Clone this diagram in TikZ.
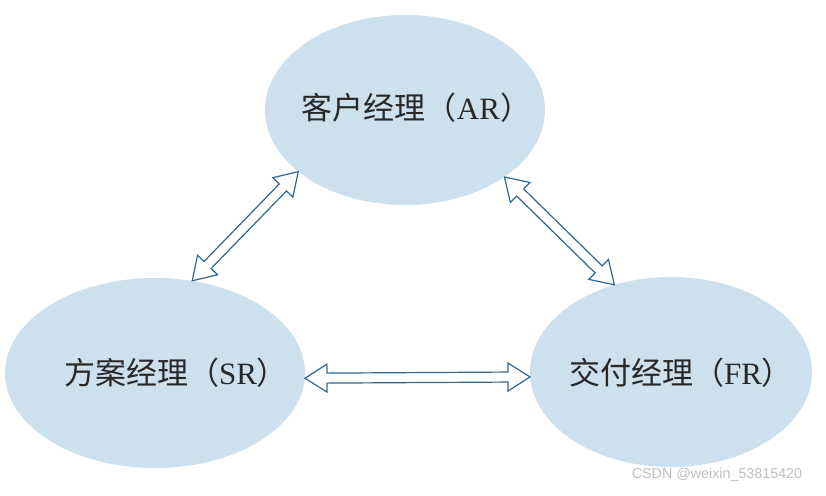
\documentclass[tikz,border=0pt]{standalone}
\usepackage{fontspec}
\setmainfont{Liberation Serif}
\newfontfamily\cjk{Noto Sans CJK SC}
\newfontfamily\wmfont{Liberation Sans}
\usetikzlibrary{shapes.geometric,calc}
\definecolor{bubble}{RGB}{204,224,238}
\definecolor{arrowc}{RGB}{46,104,150}
\definecolor{wmgray}{RGB}{190,190,190}
\definecolor{labelc}{RGB}{40,40,40}
\newcommand{\arrHL}{22pt}
\newcommand{\arrHW}{14pt}
\newcommand{\arrSW}{5pt}
\newcommand{\hollowarrow}[2]{%
  \draw[arrowbody] (#1)
   -- ($(#1)!\arrHL!(#2)!\arrHW!90:(#2)$)
   -- ($(#1)!\arrHL!(#2)!\arrSW!90:(#2)$)
   -- ($(#2)!\arrHL!(#1)!\arrSW!-90:(#1)$)
   -- ($(#2)!\arrHL!(#1)!\arrHW!-90:(#1)$)
   -- (#2)
   -- ($(#2)!\arrHL!(#1)!\arrHW!90:(#1)$)
   -- ($(#2)!\arrHL!(#1)!\arrSW!90:(#1)$)
   -- ($(#1)!\arrHL!(#2)!\arrSW!-90:(#2)$)
   -- ($(#1)!\arrHL!(#2)!\arrHW!-90:(#2)$)
   -- cycle;}
\tikzset{
  bubblenode/.style={ellipse, fill=bubble, draw=none, inner sep=0pt, minimum height=190pt},
  labeltext/.style={font=\fontsize{31}{34}\selectfont, text=labelc, inner sep=0pt},
  arrowbody/.style={draw=arrowc, fill=white, line width=1.2pt, line join=miter},
  watermark/.style={font=\wmfont\fontsize{14.3}{16}\selectfont, text=wmgray, inner sep=0pt}
}
\begin{document}
\begin{tikzpicture}[x=1pt,y=1pt]
\useasboundingbox (0,0) rectangle (826,-495);
\fill[white] (0,0) rectangle (826,-495);
\node[bubblenode, minimum width=280pt] (ar) at (405,-110) {};
\node[bubblenode, minimum width=300pt] (sr) at (155,-373) {};
\node[bubblenode, minimum width=282pt] (fr) at (671,-372) {};
\node[labeltext] (arl) at (416.5,-108) {{\cjk 客户经理（}AR{\cjk ）}};
\node[labeltext] (srl) at (176,-373) {{\cjk 方案经理（}SR{\cjk ）}};
\node[labeltext] (frl) at (681,-373) {{\cjk 交付经理（}FR{\cjk ）}};
\hollowarrow{sr.68}{ar.210.5}
\hollowarrow{ar.-34}{fr.123.7}
\hollowarrow{sr.-2}{fr.182.4}
\node[watermark] (wm) at (717,-475) {CSDN @weixin\_53815420};
\end{tikzpicture}
\end{document}
